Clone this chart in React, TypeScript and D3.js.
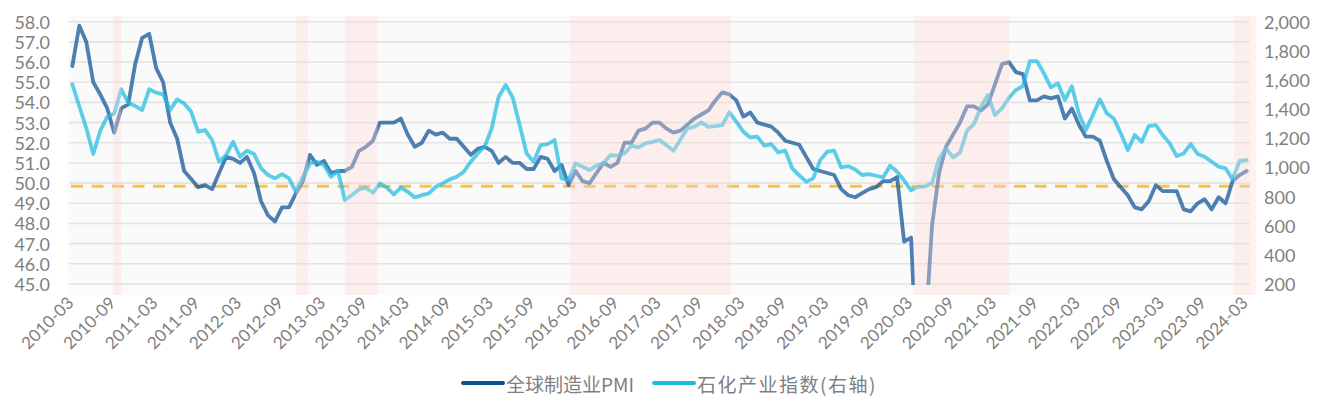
import React from 'react';
import * as d3 from 'd3';

// 全球制造业PMI, monthly from 2010-03 to 2024-03 (left axis)
const pmi = [
  55.8, 57.8, 57.0, 55.0, 54.4, 53.7, 52.5, 53.7, 53.9, 55.9, 57.2, 57.4,
  55.7, 55.0, 53.0, 52.2, 50.6, 50.2, 49.8, 49.9, 49.7, 50.5, 51.3, 51.2,
  51.0, 51.3, 50.5, 49.1, 48.4, 48.1, 48.8, 48.8, 49.5, 50.1, 51.4, 50.9,
  51.1, 50.5, 50.6, 50.6, 50.8, 51.6, 51.8, 52.1, 53.0, 53.0, 53.0, 53.2,
  52.4, 51.8, 52.0, 52.6, 52.4, 52.5, 52.2, 52.2, 51.8, 51.4, 51.7, 51.8,
  51.6, 51.0, 51.3, 51.0, 51.0, 50.7, 50.7, 51.3, 51.2, 50.6, 50.9, 49.9,
  50.6, 50.1, 50.0, 50.5, 51.0, 50.8, 51.0, 52.0, 52.0, 52.6, 52.7, 53.0,
  53.0, 52.7, 52.5, 52.6, 52.9, 53.2, 53.4, 53.6, 54.1, 54.5, 54.4, 54.1,
  53.3, 53.5, 53.0, 52.9, 52.8, 52.5, 52.1, 52.0, 51.9, 51.3, 50.7, 50.6,
  50.5, 50.4, 49.7, 49.4, 49.3, 49.5, 49.7, 49.8, 50.1, 50.1, 50.3, 47.1,
  47.3, 39.6, 42.4, 47.9, 50.5, 51.8, 52.4, 53.0, 53.8, 53.8, 53.6, 53.9,
  54.9, 55.9, 56.0, 55.5, 55.4, 54.1, 54.1, 54.3, 54.2, 54.3, 53.2, 53.7,
  52.9, 52.3, 52.3, 52.1, 51.1, 50.2, 49.8, 49.4, 48.8, 48.7, 49.1, 49.9,
  49.6, 49.6, 49.6, 48.7, 48.6, 49.0, 49.2, 48.7, 49.3, 49.0, 50.1, 50.4,
  50.6,
];

// 石化产业指数, same months (right axis)
const petro = [
  1570, 1420, 1270, 1092, 1252, 1348, 1371, 1536, 1444, 1421, 1394, 1536,
  1513, 1501, 1394, 1467, 1439, 1382, 1245, 1256, 1188, 1039, 1085, 1176,
  1073, 1115, 1092, 993, 948, 925, 954, 925, 833, 936, 1028, 1039,
  1016, 936, 977, 776, 810, 849, 861, 826, 890, 861, 815, 861,
  833, 794, 810, 822, 867, 890, 918, 936, 970, 1039, 1096, 1142,
  1268, 1485, 1565, 1481, 1291, 1096, 1039, 1153, 1160, 1188, 925, 913,
  1028, 1005, 982, 1012, 1028, 1085, 1080, 1096, 1149, 1137, 1165, 1176,
  1188, 1153, 1115, 1192, 1268, 1279, 1309, 1279, 1284, 1291, 1378, 1314,
  1245, 1206, 1211, 1149, 1160, 1103, 1115, 993, 945, 902, 925, 1050,
  1108, 1115, 1000, 1009, 986, 948, 954, 943, 931, 1012, 970, 910,
  843, 867, 870, 893, 1060, 1131, 1069, 1101, 1252, 1298, 1417, 1497,
  1359, 1405, 1478, 1531, 1558, 1730, 1730, 1645, 1549, 1577, 1462, 1558,
  1371, 1256, 1359, 1467, 1371, 1336, 1234, 1119, 1222, 1176, 1284, 1291,
  1222, 1165, 1078, 1096, 1160, 1092, 1073, 1039, 1005, 993, 918, 1044,
  1050,
];

// shaded periods
const bands = [
  ['2010-08-26', '2010-09-30'],
  ['2012-11-02', '2012-12-24'],
  ['2013-06-01', '2013-10-22'],
  ['2016-02-08', '2018-01-08'],
  ['2020-03-15', '2021-05-01'],
  ['2024-01-07', '2024-04-13'],
];

const leftTicks = [45, 46, 47, 48, 49, 50, 51, 52, 53, 54, 55, 56, 57, 58];
const rightTicks = [200, 400, 600, 800, 1000, 1200, 1400, 1600, 1800, 2000];
const refLevel = 49.85;

const seriesNames = ['全球制造业PMI', '石化产业指数(右轴)'];
const colors = ['#0b4f95', '#1ebbe0'];

const W = 1329;
const H = 413;
const plot = { left: 69, right: 1250, top: 21.7, bottom: 284 };
const font = 'Lato, "Noto Sans", sans-serif';
const textColor = '#7f7f7f';

const monthLabel = (i: number) => {
  const d = d3.timeMonth.offset(new Date(2010, 2, 1), i);
  return d3.timeFormat('%Y-%m')(d);
};

const bandIndex = (s: string) => {
  const [y, m, d] = s.split('-').map(Number);
  const dim = new Date(y, m, 0).getDate();
  return (y - 2010) * 12 + (m - 3) + (d - 1) / dim;
};

export default function App() {
  const x = d3.scaleLinear().domain([0, pmi.length - 1]).range([72.3, 1246.6]);
  const yL = d3.scaleLinear().domain([45, 58]).range([plot.bottom, plot.top]);
  const yR = d3.scaleLinear().domain([200, 2000]).range([plot.bottom, plot.top]);

  const lineL = d3.line<number>().x((_, i) => x(i)).y(d => yL(d));
  const lineR = d3.line<number>().x((_, i) => x(i)).y(d => yR(d));

  const tickIdx = d3.range(0, pmi.length, 6);

  return (
    <div style={{ position: 'absolute', left: 0, top: 0 }}>
      <svg width={W} height={H} style={{ display: 'block', background: '#fff' }}>
        <defs>
          <clipPath id="plotClip">
            <rect x={plot.left} y={14} width={plot.right - plot.left} height={plot.bottom + 1 - 14} />
          </clipPath>
        </defs>
        <rect x={68} y={16} width={plot.right - 68} height={295 - 16} fill="#fafafa" />
        {leftTicks.map(t => (
          <line key={t} x1={plot.left} x2={plot.right} y1={yL(t)} y2={yL(t)} stroke="#e3e3e3" strokeWidth={1.6} />
        ))}
        <line x1={71} x2={plot.right} y1={yL(refLevel)} y2={yL(refLevel)}
          stroke="#f6c440" strokeWidth={3} strokeDasharray="12 8.5" />
        <g clipPath="url(#plotClip)" fill="none" strokeLinejoin="round" strokeLinecap="round" strokeWidth={3.8}>
          <path d={lineL(pmi) || ''} stroke={colors[0]} strokeOpacity={0.72} />
          <path d={lineR(petro) || ''} stroke={colors[1]} strokeOpacity={0.72} />
        </g>
        {bands.map(([a, b]) => {
          const x0 = x(bandIndex(a));
          const x1 = x(bandIndex(b));
          return <rect key={a} x={x0} y={16} width={x1 - x0} height={295 - 16} fill="#ffd7d4" fillOpacity={0.35} />;
        })}
        <g fontFamily={font} fontSize={18} fill={textColor}>
          {leftTicks.map(t => (
            <text key={t} x={50} y={yL(t)} textAnchor="end" dominantBaseline="central">{t.toFixed(1)}</text>
          ))}
          {rightTicks.map(t => (
            <text key={t} x={1264} y={yR(t)} dominantBaseline="central">{d3.format(',')(t)}</text>
          ))}
        </g>
        <g fontFamily={font} fontSize={17} fill={textColor}>
          {tickIdx.map(i => (
            <text key={i} transform={`translate(${x(i) + 2.5},304) rotate(-45)`} textAnchor="end">{monthLabel(i)}</text>
          ))}
        </g>
        <g fontFamily={'"Noto Sans CJK SC", sans-serif'} fontSize={19} fill={textColor}>
          <line x1={463} x2={503} y1={383} y2={383} stroke={colors[0]} strokeWidth={4} strokeLinecap="round" />
          <text x={506} y={383} dominantBaseline="central">{seriesNames[0]}</text>
          <line x1={654} x2={694} y1={383} y2={383} stroke={colors[1]} strokeWidth={4} strokeLinecap="round" />
          <text x={697} y={383} dominantBaseline="central" letterSpacing={1.5}>{seriesNames[1]}</text>
        </g>
      </svg>
    </div>
  );
}
